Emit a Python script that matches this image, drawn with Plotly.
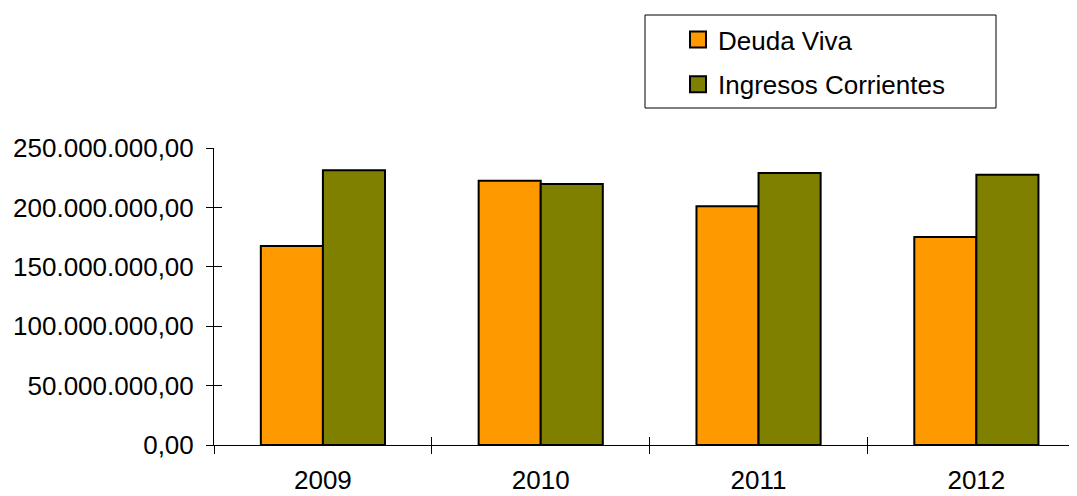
import plotly.graph_objects as go

# données
annees = ["2009", "2010", "2011", "2012"]
deuda_viva = [167500000, 222500000, 201000000, 175000000]
ingresos_corrientes = [231200000, 219700000, 229000000, 227500000]
noms_series = ["Deuda Viva", "Ingresos Corrientes"]
couleurs = ["#FF9900", "#808000"]
graduations_y = [0, 50e6, 100e6, 150e6, 200e6, 250e6]

police = dict(family="Liberation Sans, Arial, sans-serif", size=26, color="black")

fig = go.Figure()
for nom, valeurs, couleur in zip(noms_series, [deuda_viva, ingresos_corrientes], couleurs):
    fig.add_trace(go.Bar(
        x=annees, y=valeurs, name=nom,
        marker=dict(color=couleur, line=dict(color="black", width=2)),
        legendgroup=nom, showlegend=False,
    ))
    # entrée de légende avec un carré plus grand que le symbole de barre par défaut
    fig.add_trace(go.Scatter(
        x=[None], y=[None], name=nom, mode="markers", legendgroup=nom,
        marker=dict(symbol="square", size=16, color=couleur, line=dict(color="black", width=2)),
    ))

# trace invisible pour porter les axes superposés (ticks qui traversent l'axe)
fig.add_trace(go.Scatter(x=annees, y=[None] * len(annees), xaxis="x2", yaxis="y2",
                         mode="markers", showlegend=False, hoverinfo="skip"))

plage_x = [-0.5, 3.462]
plage_y = [0, 250000000]

# la page ajoute une marge de 8px autour de la figure -> on la compense
fig.update_layout(
    width=1069, height=488,
    margin=dict(l=206, r=0, t=140, b=51, autoexpand=False),
    plot_bgcolor="white", paper_bgcolor="white",
    font=police,
    separators=",.",
    barmode="group", bargap=0.43, bargroupgap=0,
    showlegend=True,
    legend=dict(
        xref="container", yref="container",
        x=670 / 1069, y=1 - 8 / 488, xanchor="left", yanchor="top",
        bgcolor="rgba(0,0,0,0)", borderwidth=0,
        font=police, tracegroupgap=8, itemsizing="trace",
    ),
    xaxis=dict(
        type="category", range=plage_x, showline=True, linecolor="black", linewidth=1,
        ticks="outside", tickson="boundaries", ticklen=8, tickcolor="black",
        showgrid=False, zeroline=False, ticklabelstandoff=12,
    ),
    yaxis=dict(
        range=plage_y, tickvals=graduations_y, tickformat=",.2f",
        showline=True, linecolor="black", linewidth=1,
        ticks="outside", ticklen=7, tickcolor="black",
        showgrid=False, zeroline=False, ticklabelstandoff=7,
    ),
    xaxis2=dict(
        type="category", overlaying="x", range=plage_x, categoryarray=annees,
        ticks="inside", tickson="boundaries", ticklen=8, tickcolor="black",
        showticklabels=False, showgrid=False, zeroline=False, showline=False, side="bottom",
    ),
    yaxis2=dict(
        overlaying="y", range=plage_y, tickvals=graduations_y,
        ticks="inside", ticklen=8, tickcolor="black",
        showticklabels=False, showgrid=False, zeroline=False, showline=False, side="left",
    ),
)

# cadre de la légende
fig.add_shape(type="rect", xref="paper", yref="paper",
              x0=(645 - 214) / 863, x1=(996 - 214) / 863,
              y0=(445 - 108) / 297, y1=(445 - 15) / 297,
              line=dict(color="black", width=1), fillcolor="rgba(0,0,0,0)", layer="below")

fig.write_html("out.html")
